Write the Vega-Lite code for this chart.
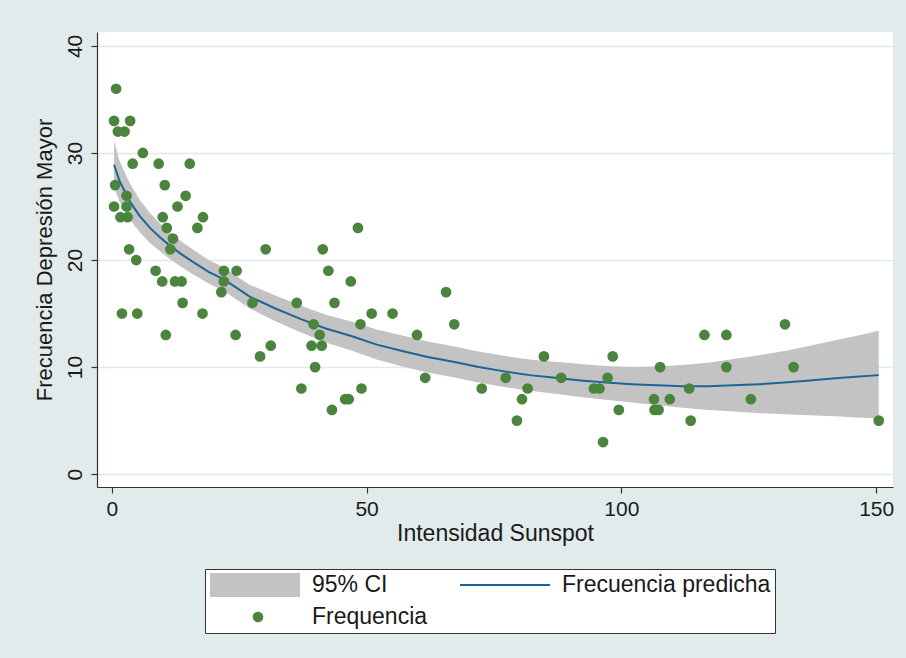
{
  "$schema": "https://vega.github.io/schema/vega-lite/v6.json",
  "width": 796,
  "height": 455,
  "autosize": {"type": "none"},
  "padding": {"left": 97, "top": 32, "right": 13, "bottom": 171},
  "background": "#e1ebeb",
  "config": {"view": {"fill": "white", "stroke": null}, "font": "Liberation Sans"},
  "datasets": {
    "fit": [
      {"x": 0.45, "pred": 28.9, "lo": 26.8, "hi": 31.1},
      {"x": 1.5, "pred": 27.4, "lo": 25.5, "hi": 29.3},
      {"x": 3.5, "pred": 25.5, "lo": 23.8, "hi": 27.2},
      {"x": 5.5, "pred": 24.1, "lo": 22.6, "hi": 25.6},
      {"x": 7.5, "pred": 23.0, "lo": 21.6, "hi": 24.4},
      {"x": 9.5, "pred": 22.1, "lo": 20.8, "hi": 23.4},
      {"x": 11.5, "pred": 21.3, "lo": 20.05, "hi": 22.55},
      {"x": 13.5, "pred": 20.6, "lo": 19.4, "hi": 21.8},
      {"x": 16, "pred": 19.8, "lo": 18.65, "hi": 20.95},
      {"x": 19, "pred": 18.9, "lo": 17.8, "hi": 20.0},
      {"x": 22, "pred": 18.2, "lo": 17.1, "hi": 19.3},
      {"x": 27, "pred": 16.6, "lo": 15.5, "hi": 17.7},
      {"x": 32, "pred": 15.5, "lo": 14.3, "hi": 16.7},
      {"x": 37, "pred": 14.5, "lo": 13.25, "hi": 15.75},
      {"x": 42, "pred": 13.6, "lo": 12.3, "hi": 14.9},
      {"x": 47, "pred": 12.9, "lo": 11.55, "hi": 14.25},
      {"x": 52, "pred": 12.1, "lo": 10.7, "hi": 13.5},
      {"x": 57, "pred": 11.5, "lo": 10.05, "hi": 12.95},
      {"x": 62, "pred": 10.95, "lo": 9.5, "hi": 12.4},
      {"x": 67, "pred": 10.5, "lo": 9.05, "hi": 11.95},
      {"x": 72, "pred": 10.0, "lo": 8.55, "hi": 11.45},
      {"x": 77, "pred": 9.6, "lo": 8.15, "hi": 11.05},
      {"x": 82, "pred": 9.25, "lo": 7.8, "hi": 10.7},
      {"x": 87, "pred": 9.0, "lo": 7.5, "hi": 10.5},
      {"x": 92, "pred": 8.75, "lo": 7.2, "hi": 10.3},
      {"x": 97, "pred": 8.55, "lo": 6.95, "hi": 10.1},
      {"x": 102, "pred": 8.4, "lo": 6.7, "hi": 10.0},
      {"x": 107, "pred": 8.3, "lo": 6.45, "hi": 10.05},
      {"x": 112, "pred": 8.2, "lo": 6.2, "hi": 10.2},
      {"x": 117, "pred": 8.2, "lo": 6.0, "hi": 10.4},
      {"x": 122, "pred": 8.3, "lo": 5.85, "hi": 10.75},
      {"x": 127, "pred": 8.4, "lo": 5.7, "hi": 11.1},
      {"x": 132, "pred": 8.55, "lo": 5.6, "hi": 11.5},
      {"x": 137, "pred": 8.75, "lo": 5.5, "hi": 12.0},
      {"x": 142, "pred": 8.95, "lo": 5.4, "hi": 12.5},
      {"x": 146, "pred": 9.1, "lo": 5.3, "hi": 12.9},
      {"x": 150.5, "pred": 9.25, "lo": 5.2, "hi": 13.4}
    ],
    "obs": [
      {"x": 0.85, "y": 36}, {"x": 0.45, "y": 33}, {"x": 3.6, "y": 33}, {"x": 1.2, "y": 32}, {"x": 2.5, "y": 32},
      {"x": 6.1, "y": 30}, {"x": 4.1, "y": 29}, {"x": 9.2, "y": 29}, {"x": 15.3, "y": 29}, {"x": 0.65, "y": 27},
      {"x": 10.4, "y": 27}, {"x": 2.9, "y": 26}, {"x": 14.5, "y": 26}, {"x": 0.45, "y": 25}, {"x": 2.9, "y": 25},
      {"x": 12.9, "y": 25}, {"x": 1.7, "y": 24}, {"x": 3.1, "y": 24}, {"x": 10.0, "y": 24}, {"x": 17.9, "y": 24},
      {"x": 10.8, "y": 23}, {"x": 16.8, "y": 23}, {"x": 12.0, "y": 22}, {"x": 11.5, "y": 21}, {"x": 3.4, "y": 21},
      {"x": 30.2, "y": 21}, {"x": 4.8, "y": 20}, {"x": 8.6, "y": 19}, {"x": 22.0, "y": 19}, {"x": 24.5, "y": 19},
      {"x": 9.9, "y": 18}, {"x": 12.4, "y": 18}, {"x": 13.7, "y": 18}, {"x": 22.0, "y": 18}, {"x": 21.5, "y": 17},
      {"x": 13.9, "y": 16}, {"x": 27.6, "y": 16}, {"x": 2.0, "y": 15}, {"x": 5.0, "y": 15}, {"x": 17.8, "y": 15},
      {"x": 10.6, "y": 13}, {"x": 24.3, "y": 13}, {"x": 31.2, "y": 12}, {"x": 29.1, "y": 11}, {"x": 48.3, "y": 23},
      {"x": 41.4, "y": 21}, {"x": 42.5, "y": 19}, {"x": 46.9, "y": 18}, {"x": 65.6, "y": 17}, {"x": 36.3, "y": 16},
      {"x": 43.7, "y": 16}, {"x": 51.0, "y": 15}, {"x": 55.1, "y": 15}, {"x": 39.6, "y": 14}, {"x": 48.8, "y": 14},
      {"x": 67.2, "y": 14}, {"x": 40.8, "y": 13}, {"x": 59.9, "y": 13}, {"x": 39.2, "y": 12}, {"x": 41.2, "y": 12},
      {"x": 39.9, "y": 10}, {"x": 61.5, "y": 9}, {"x": 72.6, "y": 8}, {"x": 37.2, "y": 8}, {"x": 49.0, "y": 8},
      {"x": 45.8, "y": 7}, {"x": 46.5, "y": 7}, {"x": 43.2, "y": 6}, {"x": 84.8, "y": 11}, {"x": 98.3, "y": 11},
      {"x": 107.6, "y": 10}, {"x": 77.3, "y": 9}, {"x": 88.2, "y": 9}, {"x": 97.3, "y": 9}, {"x": 81.6, "y": 8},
      {"x": 94.6, "y": 8}, {"x": 95.7, "y": 8}, {"x": 113.3, "y": 8}, {"x": 80.5, "y": 7}, {"x": 106.4, "y": 7},
      {"x": 109.5, "y": 7}, {"x": 99.5, "y": 6}, {"x": 106.5, "y": 6}, {"x": 107.3, "y": 6}, {"x": 79.5, "y": 5},
      {"x": 96.4, "y": 3}, {"x": 113.6, "y": 5}, {"x": 116.3, "y": 13}, {"x": 120.6, "y": 13}, {"x": 132.1, "y": 14},
      {"x": 120.6, "y": 10}, {"x": 133.8, "y": 10}, {"x": 125.4, "y": 7}, {"x": 150.5, "y": 5}
    ]
  },
  "layer": [
    {
      "data": {"name": "fit"},
      "mark": {"type": "area", "opacity": 1},
      "encoding": {
        "x": {
          "field": "x", "type": "quantitative",
          "scale": {"domain": [-2.9, 153.3], "nice": false, "zero": false},
          "axis": {
            "values": [0, 50, 100, 150], "format": "d", "grid": false,
            "title": "Intensidad Sunspot", "titleFontSize": 23, "titleFontWeight": "normal",
            "titleColor": "#1a1a1a", "titlePadding": 3,
            "labelFontSize": 21, "labelColor": "#1a1a1a", "labelPadding": 5, "labelFlush": false,
            "domainColor": "#333333", "domainWidth": 1.2, "tickColor": "#333333", "tickSize": 6, "tickWidth": 1.2
          }
        },
        "y": {
          "field": "lo", "type": "quantitative",
          "scale": {"domain": [-1.2, 41.3], "nice": false, "zero": false},
          "axis": {
            "values": [0, 10, 20, 30, 40], "format": "d", "grid": true,
            "gridColor": "#dfe9e9", "gridWidth": 1.5,
            "title": "Frecuencia Depresión Mayor", "titleFontSize": 22, "titleFontWeight": "normal",
            "titleColor": "#1a1a1a", "titlePadding": 8,
            "labelFontSize": 21, "labelColor": "#1a1a1a", "labelAngle": -90,
            "labelAlign": "center", "labelBaseline": "alphabetic", "labelPadding": 10,
            "domainColor": "#333333", "domainWidth": 1.2, "tickColor": "#333333", "tickSize": 6, "tickWidth": 1.2
          }
        },
        "y2": {"field": "hi"},
        "color": {
          "datum": "95% CI", "type": "nominal",
          "scale": {"domain": ["95% CI", "Frecuencia predicha", "Frequencia"], "range": ["#c3c3c3", "#1e6495", "#4a843d"]},
          "legend": {
            "orient": "none", "legendX": 108, "legendY": 537, "columns": 2, "direction": "horizontal", "title": null,
            "strokeColor": "#333333", "fillColor": "white", "padding": 4,
            "labelFontSize": 23, "labelColor": "#1a1a1a", "labelFont": "Liberation Sans", "labelOffset": 79, "labelLimit": 400,
            "symbolSize": 576, "symbolStrokeWidth": 0, "columnPadding": 31, "rowPadding": 8,
            "encoding": {
              "symbols": {
                "shape": {"value": {"expr": "datum.value === '95% CI' ? 'M-0.917,-1H6.583V1H-0.917Z' : datum.value === 'Frecuencia predicha' ? 'M-0.917,-0.08H6.583V0.08H-0.917Z' : 'M3.523,0A0.44,0.44 0 1,1 2.643,0A0.44,0.44 0 1,1 3.523,0Z'"}},
                "fill": {"value": {"expr": "datum.value === '95% CI' ? '#c3c3c3' : datum.value === 'Frecuencia predicha' ? '#1e6495' : '#4a843d'"}},
                "stroke": {"value": "transparent"},
                "strokeWidth": {"value": 0},
                "opacity": {"value": 1},
                "size": {"value": 576}
              }
            }
          }
        }
      }
    },
    {
      "data": {"name": "fit"},
      "mark": {"type": "line", "strokeWidth": 2},
      "encoding": {
        "x": {"field": "x", "type": "quantitative"},
        "y": {"field": "pred", "type": "quantitative"},
        "color": {"datum": "Frecuencia predicha", "type": "nominal"}
      }
    },
    {
      "data": {"name": "obs"},
      "mark": {"type": "circle", "size": 115, "opacity": 1},
      "encoding": {
        "x": {"field": "x", "type": "quantitative"},
        "y": {"field": "y", "type": "quantitative"},
        "color": {"datum": "Frequencia", "type": "nominal"}
      }
    }
  ]
}
